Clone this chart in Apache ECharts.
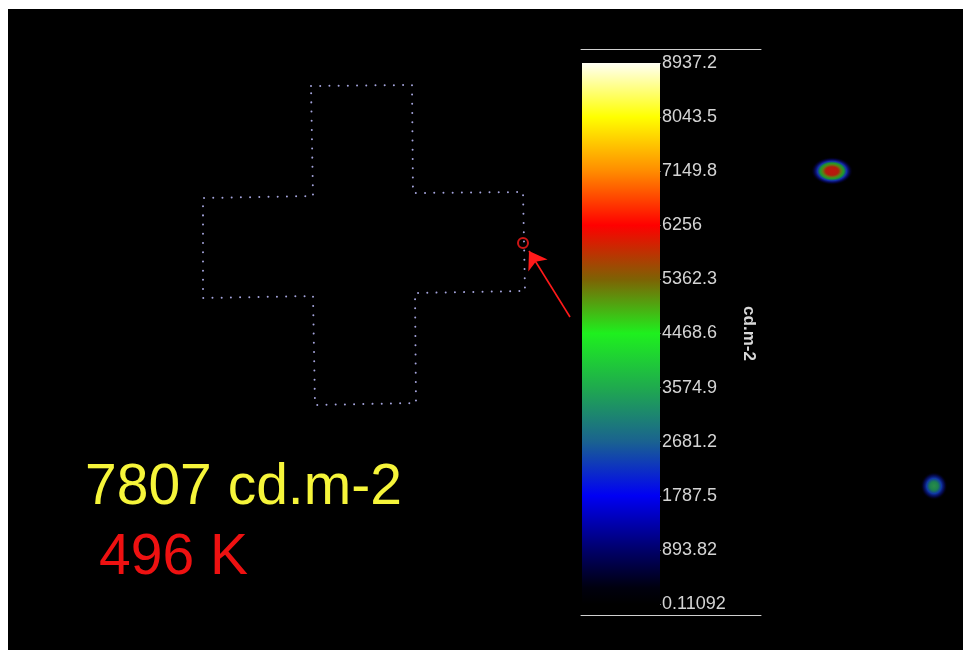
<!DOCTYPE html>
<html>
<head>
<meta charset="utf-8">
<script src="https://cdn.jsdelivr.net/npm/echarts@6/dist/echarts.min.js"></script>
<style>html,body{margin:0;padding:0;background:#fff}#c{width:963px;height:650px}</style>
</head>
<body>
<div id="c"></div>
<script>
// Image area coordinates (panel pixels)
const crossX = [303, 404, 405, 515, 517, 407, 408, 307, 305, 195, 195, 305, 303];
const crossY = [77, 76, 184, 183, 282, 284, 394, 396, 287, 289, 189, 187, 77];
const probePoint = [515, 234];
const arrowFrom = [562, 308];
const arrowTo = [521, 242];
const hotspotX = [824, 926];
const hotspotY = [162, 477];
const hotspotW = [42, 27];
const hotspotH = [28, 28];
// Colour scale
const colorbarTicks = ['0.11092', '893.82', '1787.5', '2681.2', '3574.9', '4468.6', '5362.3', '6256', '7149.8', '8043.5', '8937.2'];
const colorbarUnit = 'cd.m-2';
// Readout
const luminance = 7807;
const temperature = 496;

const tickVals = colorbarTicks.map(Number);
const cbMin = tickVals[0], cbMax = tickVals[tickVals.length - 1];
const crossData = crossX.map((x, i) => [x, crossY[i]]);

const hotGrad = [
  [[0, '#ee1a10'], [0.3, '#dc2410'], [0.44, '#7a9a18'], [0.56, '#22c23a'], [0.7, '#1838d8'], [0.85, 'rgba(10,10,150,0.5)'], [1, 'rgba(0,0,0,0)']],
  [[0, '#34b05a'], [0.3, '#23a060'], [0.55, '#1446d0'], [0.78, 'rgba(10,20,170,0.5)'], [1, 'rgba(0,0,0,0)']]
];
const hotData = hotspotX.map((x, i) => ({
  value: [x, hotspotY[i]],
  symbolSize: [hotspotW[i], hotspotH[i]],
  itemStyle: { color: { type: 'radial', x: 0.5, y: 0.5, r: 0.5, colorStops: hotGrad[i].map(s => ({ offset: s[0], color: s[1] })) } }
}));

const chart = echarts.init(document.getElementById('c'), null, { renderer: 'canvas' });
chart.setOption({
  backgroundColor: '#ffffff',
  animation: false,
  grid: [
    { left: 8, top: 9, width: 955, height: 641, show: true, backgroundColor: '#000000', borderWidth: 0 },
    { left: 582, top: 63, width: 78, height: 541 },
    { left: 581, top: 49, width: 180, height: 566 }
  ],
  xAxis: [
    { gridIndex: 0, type: 'value', min: 0, max: 955, show: false },
    { gridIndex: 1, type: 'category', data: [''], show: false },
    { gridIndex: 2, type: 'value', min: 0, max: 1, position: 'top', axisLine: { show: true, onZero: false, lineStyle: { color: '#cfcfcf', width: 1 } }, axisTick: { show: false }, axisLabel: { show: false }, splitLine: { show: false } },
    { gridIndex: 2, type: 'value', min: 0, max: 1, position: 'bottom', axisLine: { show: true, onZero: false, lineStyle: { color: '#cfcfcf', width: 1 } }, axisTick: { show: false }, axisLabel: { show: false }, splitLine: { show: false } }
  ],
  yAxis: [
    { gridIndex: 0, type: 'value', min: 0, max: 641, inverse: true, show: false },
    {
      gridIndex: 1, type: 'value', position: 'right', min: cbMin, max: cbMax,
      axisLine: { show: false },
      splitLine: { show: false },
      axisTick: { show: true, length: 1, customValues: tickVals, lineStyle: { color: '#707070' } },
      axisLabel: {
        customValues: tickVals, margin: 2, color: '#d4d4d4', fontFamily: 'Liberation Sans', fontSize: 18,
        formatter: v => { let best = 0; tickVals.forEach((t, i) => { if (Math.abs(t - v) < Math.abs(tickVals[best] - v)) best = i; }); return colorbarTicks[best]; }
      },
      name: colorbarUnit, nameLocation: 'middle', nameRotate: -90, nameGap: 80,
      nameTextStyle: { color: '#d8d8d8', fontFamily: 'Liberation Sans', fontWeight: 'bold', fontSize: 17 }
    },
    { gridIndex: 2, type: 'value', min: 0, max: 1, show: false }
  ],
  series: [
    {
      type: 'line', xAxisIndex: 0, yAxisIndex: 0, data: crossData, symbol: 'none', silent: true,
      lineStyle: { color: '#a4a4dc', width: 2, type: [0.01, 9.2], cap: 'round' }
    },
    {
      type: 'scatter', xAxisIndex: 0, yAxisIndex: 0, data: hotData, symbol: 'circle', silent: true
    },
    {
      type: 'scatter', xAxisIndex: 0, yAxisIndex: 0, data: [probePoint], symbol: 'circle', symbolSize: 10,
      itemStyle: { color: 'rgba(0,0,0,0)', borderColor: '#ff1a1a', borderWidth: 2 }, silent: true
    },
    {
      type: 'lines', coordinateSystem: 'cartesian2d', xAxisIndex: 0, yAxisIndex: 0,
      data: [{ coords: [arrowFrom, arrowTo] }],
      symbol: ['none', 'arrow'], symbolSize: 17,
      lineStyle: { color: '#ff1a1a', width: 1.6, opacity: 1, curveness: 0 }, silent: true
    },
    {
      type: 'bar', xAxisIndex: 1, yAxisIndex: 1, data: [cbMax], barWidth: '100%', silent: true,
      itemStyle: {
        color: {
          type: 'linear', x: 0, y: 0, x2: 0, y2: 1,
          colorStops: [
            { offset: 0, color: '#fffff4' },
            { offset: 0.1, color: '#ffff00' },
            { offset: 0.2, color: '#ff8c00' },
            { offset: 0.3, color: '#ff0000' },
            { offset: 0.4, color: '#7e6204' },
            { offset: 0.5, color: '#1ef01e' },
            { offset: 0.6, color: '#1faa4e' },
            { offset: 0.7, color: '#1a6290' },
            { offset: 0.8, color: '#0000f4' },
            { offset: 0.9, color: '#00006a' },
            { offset: 0.97, color: '#00000e' },
            { offset: 1, color: '#000000' }
          ]
        }
      }
    },
    { type: 'scatter', xAxisIndex: 2, yAxisIndex: 2, data: [] },
    { type: 'scatter', xAxisIndex: 3, yAxisIndex: 2, data: [] }
  ],
  graphic: [
    { type: 'text', x: 85, y: 488, silent: true, style: { text: luminance + ' cd.m-2', fill: '#f6f53a', font: '57px "Liberation Sans"', verticalAlign: 'middle', textVerticalAlign: 'middle' } },
    { type: 'text', x: 99, y: 558, silent: true, style: { text: temperature + ' K', fill: '#ee1111', font: '57px "Liberation Sans"', verticalAlign: 'middle', textVerticalAlign: 'middle' } }
  ]
});
</script>
</body>
</html>
